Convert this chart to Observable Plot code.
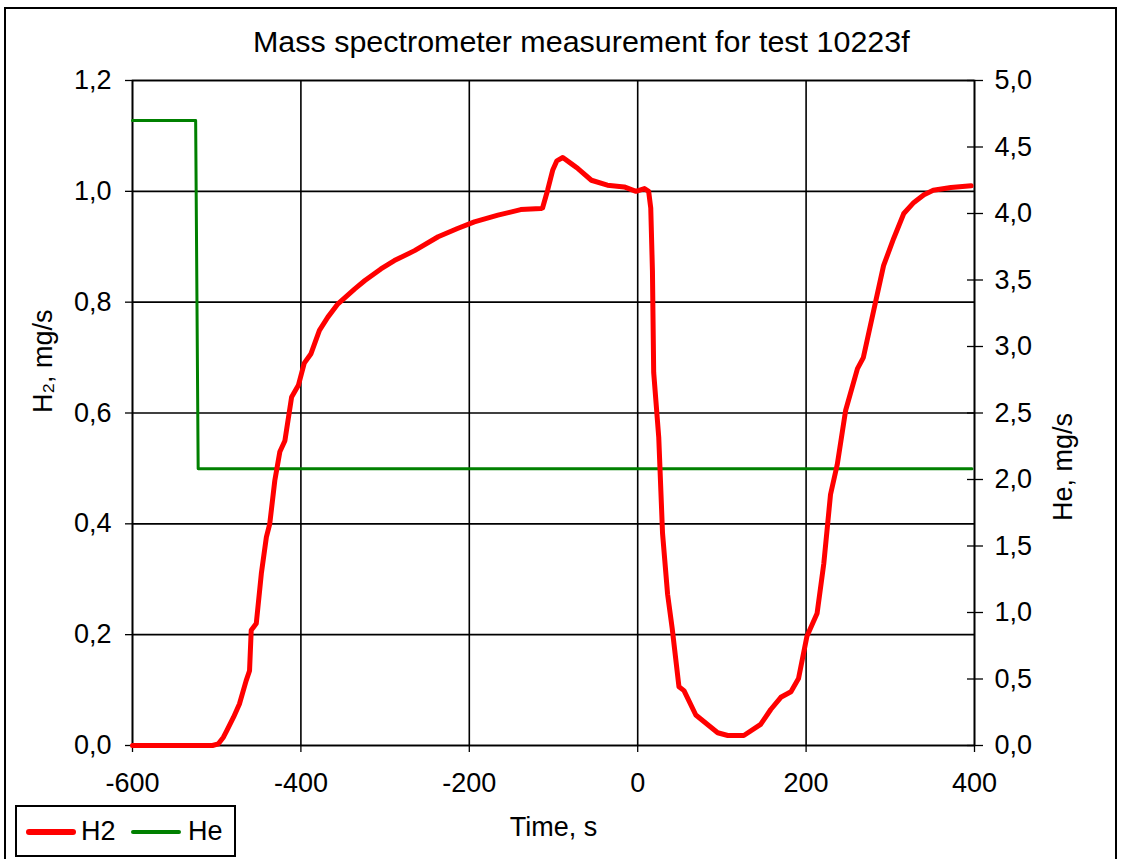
<!DOCTYPE html>
<html><head><meta charset="utf-8">
<script src="https://cdn.jsdelivr.net/npm/d3@7"></script>
<script src="https://cdn.jsdelivr.net/npm/@observablehq/plot@0.6"></script>
<style>
body{margin:0;background:#fff;font-family:"Liberation Sans",Arial,sans-serif;}
#wrap{position:relative;width:1122px;height:859px;overflow:hidden;background:#fff;}
#border{position:absolute;left:4px;top:7px;width:1113px;height:900px;border:2px solid #000;box-sizing:border-box;pointer-events:none;}
#title{position:relative;height:70px;}
#title span{position:absolute;left:253px;top:28px;font-size:29px;line-height:29px;white-space:nowrap;color:#000;transform:scaleX(1.05);transform-origin:left center;}
#chart svg{display:block;}
#legend{position:absolute;left:15px;top:805px;width:221px;height:52px;border:2px solid #000;box-sizing:border-box;background:#fff;font-size:27px;}
.sw{position:absolute;top:23px;height:5px;}
.lt{position:absolute;top:9px;line-height:30px;}
</style></head>
<body>
<div id="wrap">
  <div id="title"><span>Mass spectrometer measurement for test 10223f</span></div>
  <div id="chart"></div>
  <div id="legend">
    <div class="sw" style="left:9px;width:50px;background:#ff0000;height:6px;top:22px;border-radius:3px;"></div>
    <div class="lt" style="left:64px;">H2</div>
    <div class="sw" style="left:114px;width:50px;background:#008000;height:4px;top:23px;border-radius:2px;"></div>
    <div class="lt" style="left:171px;">He</div>
  </div>
  <div id="border"></div>
</div>
<script>
// H2 flow (left axis, mg/s) vs time (s)
const H2_T = [-600,-505,-498,-492,-488,-480,-473,-465,-461,-459,-453,-447,-441,-437,-431,-425,-419,-411,-403,-396,-388,-378,-368,-356,-336,-324,-305,-289,-265,-237,-214,-194,-166,-139,-115,-113,-107,-101,-96,-89,-79,-71,-55,-36,-16,-2,8,13,15.5,17.5,19,25,29.5,35.5,41,49,55,69,95,107,126,146,158,170,182,191,201,213,221,229,237,247,261,268,280,292,304,316,328,340,351,372,396];
const H2_V = [0,0,0.003,0.015,0.027,0.051,0.075,0.117,0.135,0.208,0.22,0.31,0.376,0.40,0.478,0.53,0.55,0.629,0.65,0.69,0.707,0.749,0.773,0.797,0.824,0.839,0.86,0.875,0.893,0.918,0.933,0.945,0.957,0.967,0.969,0.97,1.002,1.038,1.055,1.061,1.05,1.041,1.02,1.011,1.008,1.0,1.005,1.0,0.97,0.857,0.673,0.556,0.383,0.273,0.211,0.106,0.099,0.055,0.023,0.018,0.018,0.038,0.065,0.087,0.097,0.121,0.197,0.238,0.328,0.453,0.507,0.605,0.68,0.70,0.783,0.866,0.915,0.96,0.98,0.994,1.002,1.007,1.01];
// He flow (right axis, mg/s)
const HE_T = [-600,-525,-522,397];
const HE_V = [4.7,4.7,2.08,2.08];
const X_TICKS = [-600,-400,-200,0,200,400];
const Y_TICKS = [0,0.2,0.4,0.6,0.8,1.0,1.2];
const HE_TICKS = [0,0.5,1,1.5,2,2.5,3,3.5,4,4.5,5];
const Y_MAX = 1.2, HE_MAX = 5;

const K = Y_MAX / HE_MAX;
const h2 = H2_T.map((t,i)=>({t, v:H2_V[i]}));
const he = HE_T.map((t,i)=>({t, v:HE_V[i]*K}));
const fmt = d => d.toFixed(1).replace(".", ",");
const heTickPos = HE_TICKS.map(d=>d*K);

const chart = Plot.plot({
  width:1122, height:789,
  marginTop:10, marginLeft:132, marginRight:148, marginBottom:114,
  style:{fontFamily:"'Liberation Sans', Arial, sans-serif", fontSize:"27px", color:"#000", background:"#fff", overflow:"visible"},
  x:{domain:[-600,400]},
  y:{domain:[0,Y_MAX]},
  marks:[
    Plot.gridX(X_TICKS,{stroke:"#000",strokeOpacity:1,strokeWidth:1.6}),
    Plot.gridY(Y_TICKS,{stroke:"#000",strokeOpacity:1,strokeWidth:1.6}),
    Plot.frame({stroke:"#000",strokeWidth:1.6}),
    Plot.axisX(X_TICKS,{tickSize:7,tickPadding:20,tickFormat:d=>String(d),label:null,fontSize:27,strokeWidth:1.3}),
    Plot.axisY(Y_TICKS,{anchor:"left",tickSize:7,tickPadding:14,tickFormat:fmt,label:null,fontSize:27,strokeWidth:1.3}),
    Plot.axisY(heTickPos,{anchor:"right",tickSize:8,tickPadding:12,tickFormat:d=>fmt(d/K),label:null,fontSize:27,strokeWidth:1.3}),
    Plot.axisY(heTickPos,{anchor:"right",tickSize:-8,tickPadding:0,tickFormat:()=>"",label:null,strokeWidth:1.3}),
    Plot.line(he,{x:"t",y:"v",stroke:"#008000",strokeWidth:3}),
    Plot.line(h2,{x:"t",y:"v",stroke:"#ff0000",strokeWidth:5,strokeLinejoin:"round",strokeLinecap:"round"}),
    Plot.text(["H₂, mg/s"],{frameAnchor:"left",rotate:-90,dx:-89,fontSize:27,fill:"#000"}),
    Plot.text(["He, mg/s"],{frameAnchor:"right",rotate:-90,dx:89,fontSize:27,fill:"#000"}),
    Plot.text(["Time, s"],{frameAnchor:"bottom",dy:90,fontSize:27,fill:"#000"})
  ]
});
document.getElementById("chart").appendChild(chart);
</script>
</body></html>
